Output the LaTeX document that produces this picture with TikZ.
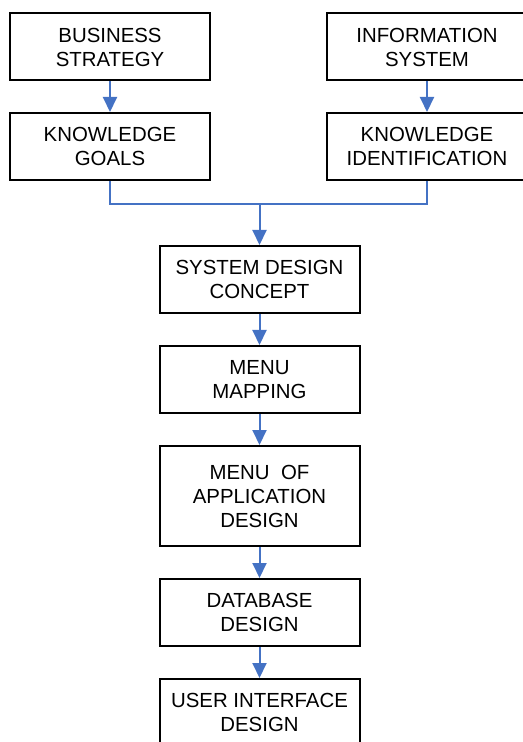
\documentclass[tikz,border=0pt]{standalone}
\usepackage{fontspec}
\setmainfont{Liberation Sans}
\usetikzlibrary{arrows.meta}
\definecolor{flowblue}{RGB}{68,114,196}
\tikzset{
    stage/.style={draw=black,line width=1pt,minimum width=100pt,minimum height=33.5pt,
        inner sep=0pt,align=center,font=\fontsize{10.2}{12}\selectfont},
    flow/.style={draw=flowblue,line width=1pt},
    flowarrow/.style={flow,-{Triangle[width=7pt,length=7.5pt]}}
}
\begin{document}
\begin{tikzpicture}[x=0.5pt,y=-0.5pt]
    \clip (0,0) rectangle (523,742);
    %% top row
    \node[stage,anchor=center] (BS) at (110,47) {BUSINESS\\STRATEGY};
    \node[stage,anchor=center] (IS) at (427,47) {INFORMATION\\SYSTEM};
    \node[stage,anchor=center] (KG) at (110,146.5) {KNOWLEDGE\\GOALS};
    \node[stage,anchor=center] (KI) at (427,146.5) {KNOWLEDGE\\IDENTIFICATION};
    \draw[flowarrow] (BS.south) -- (KG.north);
    \draw[flowarrow] (IS.south) -- (KI.north);
    %% joining line
    \coordinate (J) at (259.5,204);
    \draw[flow] (KG.south) |- (J);
    \draw[flow] (KI.south) |- (J);
    %% main column
    \node[stage,anchor=center] (SDC) at (259.5,279.5) {SYSTEM DESIGN\\CONCEPT};
    \node[stage,anchor=center] (MM) at (259.5,379.5) {MENU\\MAPPING};
    \node[stage,anchor=center,minimum height=50pt] (MAD) at (259.5,496) {MENU\ \ OF\\APPLICATION\\DESIGN};
    \node[stage,anchor=center] (DD) at (259.5,612.5) {DATABASE\\DESIGN};
    \node[stage,anchor=center] (UID) at (259.5,712.5) {USER INTERFACE\\DESIGN};
    \draw[flowarrow] (J) -- (SDC.north);
    \draw[flowarrow] (SDC.south) -- (MM.north);
    \draw[flowarrow] (MM.south) -- (MAD.north);
    \draw[flowarrow] (MAD.south) -- (DD.north);
    \draw[flowarrow] (DD.south) -- (UID.north);
\end{tikzpicture}
\end{document}
